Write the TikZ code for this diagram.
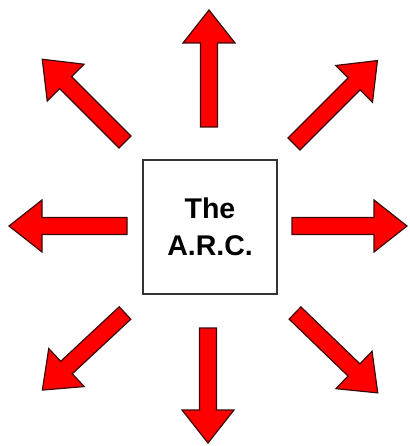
\documentclass[tikz,border=0pt]{standalone}
\usepackage{fontspec}
\setmainfont{Liberation Sans}
\definecolor{arrowred}{RGB}{255,0,0}
\definecolor{arrowedge}{RGB}{60,10,10}
\tikzset{
  bigarrow/.pic={
    \filldraw[fill=arrowred,draw=arrowedge,line width=1.2pt,line join=miter]
      (0,-8.5) -- (\arrowlen-33,-8.5) -- (\arrowlen-33,-26) -- (\arrowlen,0)
      -- (\arrowlen-33,26) -- (\arrowlen-33,8.5) -- (0,8.5) -- cycle;
  },
  arcbox/.style={draw=black!80,line width=1.5pt,minimum width=134pt,minimum height=134pt,
    align=center,font=\fontsize{28.5}{37}\selectfont\bfseries,inner sep=0pt}
}
\newcommand\arrowlen{116}
\begin{document}
\begin{tikzpicture}[x=1pt,y=-1pt]
\useasboundingbox (0,0) rectangle (409,446);
\node[arcbox] (arc) at (210,227) {The\\A.R.C.};
% arrow tails
\coordinate (tN) at (209,127);
\coordinate (tS) at (208,328);
\coordinate (tW) at (127,226);
\coordinate (tE) at (292,226);
\coordinate (tNE) at (294,144);
\coordinate (tNW) at (125,142);
\coordinate (tSW) at (125,313);
\coordinate (tSE) at (295,313);
\renewcommand\arrowlen{117}
\pic[rotate=90] at (tN) {bigarrow};
\renewcommand\arrowlen{115}
\pic[rotate=-90] at (tS) {bigarrow};
\renewcommand\arrowlen{118}
\pic[rotate=180] at (tW) {bigarrow};
\renewcommand\arrowlen{115}
\pic[rotate=0] at (tE) {bigarrow};
\renewcommand\arrowlen{118}
\pic[rotate=45] at (tNE) {bigarrow};
\renewcommand\arrowlen{117}
\pic[rotate=135] at (tNW) {bigarrow};
\renewcommand\arrowlen{113}
\pic[rotate=-137] at (tSW) {bigarrow};
\renewcommand\arrowlen{115}
\pic[rotate=-44] at (tSE) {bigarrow};
\end{tikzpicture}
\end{document}
